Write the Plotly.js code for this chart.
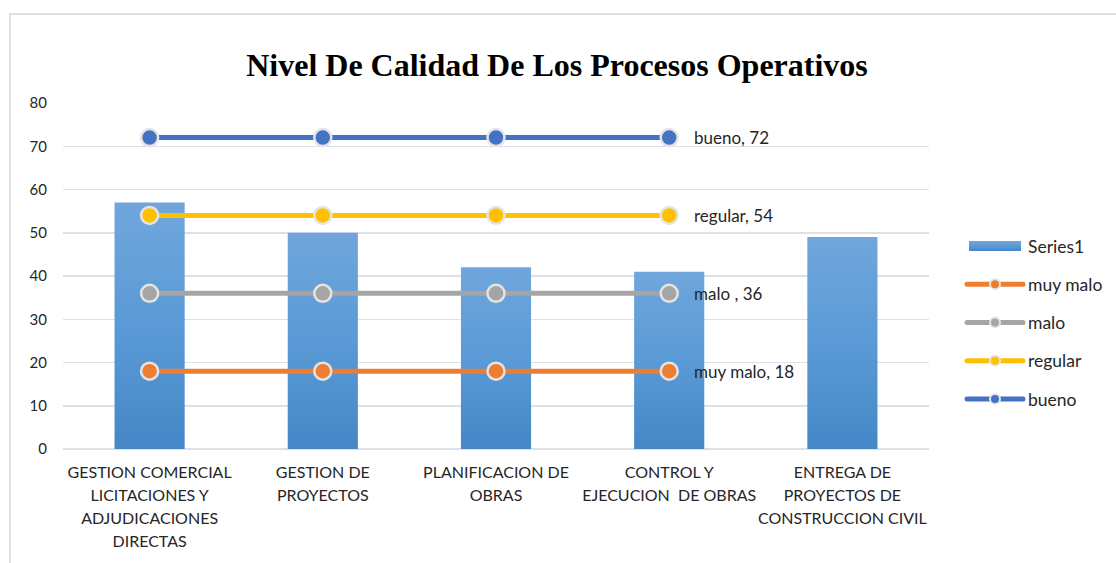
<!DOCTYPE html>
<html>
<head>
<meta charset="utf-8">
<script src="https://cdn.plot.ly/plotly-3.0.1.min.js"></script>
<style>
  html, body { margin: 0; padding: 0; background: #ffffff; overflow: hidden; }
  #frame { position: absolute; left: 9px; top: 13px; width: 2000px; height: 2000px; border: 2px solid #DDE1E7; }
  #chart { position: absolute; left: 0; top: 0; width: 1116px; height: 563px; }
</style>
</head>
<body>
<div id="frame"></div>
<div id="chart"></div>
<script>
// ---- data ----
const categories = [
  'GESTION COMERCIAL<br>LICITACIONES Y<br>ADJUDICACIONES<br>DIRECTAS',
  'GESTION DE<br>PROYECTOS',
  'PLANIFICACION DE<br>OBRAS',
  'CONTROL Y<br>EJECUCION  DE OBRAS',
  'ENTREGA DE<br>PROYECTOS DE<br>CONSTRUCCION CIVIL'
];
const series1 = [57, 50, 42, 41, 49];
const lineCategories = categories.slice(0, 4);
const muyMalo = [18, 18, 18, 18];
const malo = [36, 36, 36, 36];
const regular = [54, 54, 54, 54];
const bueno = [72, 72, 72, 72];
const lineNames = ['muy malo', 'malo', 'regular', 'bueno'];
const labelNames = ['muy malo', 'malo ', 'regular', 'bueno'];
const yTicks = [0, 10, 20, 30, 40, 50, 60, 70, 80];

// ---- styles ----
const lineColors = ['#ED7D31', '#A5A5A5', '#FFC000', '#4472C4'];
const lineSeries = [muyMalo, malo, regular, bueno];
const FONT = 'Lato, "Open Sans", sans-serif';
const TXT = '#262626';

const traces = [{
  type: 'bar', name: 'Series1', x: categories, y: series1,
  marker: { color: '#5B9BD5', line: { width: 0 } },
  legendgroup: 'g0', hoverinfo: 'x+y'
}];
lineSeries.forEach((vals, i) => {
  traces.push({
    type: 'scatter', mode: 'lines+markers', name: lineNames[i],
    x: lineCategories, y: vals, legendgroup: 'g' + (i + 1),
    line: { color: lineColors[i], width: 5 },
    marker: { color: lineColors[i], size: 17, line: { color: '#E4E4E4', width: 2.5 } }
  });
});

const annotations = lineSeries.map((vals, i) => ({
  xref: 'x', yref: 'y', x: lineCategories[lineCategories.length - 1], y: vals[vals.length - 1],
  text: labelNames[i] + ', ' + vals[vals.length - 1],
  showarrow: false, xanchor: 'left', yanchor: 'middle', xshift: 23,
  font: { family: FONT, size: 17, color: TXT }
}));

const layout = {
  width: 1116, height: 563,
  paper_bgcolor: 'rgba(0,0,0,0)', plot_bgcolor: 'rgba(0,0,0,0)',
  margin: { l: 63, r: 187, t: 103, b: 114, pad: 0, autoexpand: false },
  title: {
    text: 'Nivel De Calidad De Los Procesos Operativos',
    font: { family: '"Liberation Serif", "Times New Roman", serif', size: 32, color: '#000000', weight: 'bold' },
    x: 557 / 1116, xanchor: 'center', xref: 'container', y: 1 - 65 / 563, yanchor: 'middle'
  },
  bargap: 0.595,
  xaxis: {
    type: 'category', categoryorder: 'array', categoryarray: categories,
    showgrid: false, zeroline: false, showline: false, ticks: '',
    tickangle: 0, automargin: false,
    tickfont: { family: FONT, size: 16, color: TXT },
    ticklabelstandoff: 12
  },
  yaxis: {
    range: [0, 80], tickvals: yTicks, ticktext: yTicks.map(String),
    showgrid: true, gridcolor: '#DDE1E7', gridwidth: 1.5,
    zeroline: true, zerolinecolor: '#DDE1E7', zerolinewidth: 1.5,
    showline: false, ticks: '', automargin: false,
    tickfont: { family: FONT, size: 15, color: TXT },
    ticklabelstandoff: 15
  },
  legend: {
    x: (962 - 63) / 866, xanchor: 'left', y: (449 - 228) / 346, yanchor: 'top',
    font: { family: FONT, size: 17.5, color: TXT },
    traceorder: 'grouped', tracegroupgap: 12.5, itemwidth: 56,
    bgcolor: 'rgba(0,0,0,0)'
  },
  showlegend: true,
  annotations: annotations
};

Plotly.newPlot('chart', traces, layout, { displayModeBar: false, staticPlot: true }).then(gd => {
  const svg = gd.querySelector('svg.main-svg');
  const ns = 'http://www.w3.org/2000/svg';
  let defs = svg.querySelector('defs');
  if (!defs) { defs = document.createElementNS(ns, 'defs'); svg.insertBefore(defs, svg.firstChild); }
  const grad = document.createElementNS(ns, 'linearGradient');
  grad.setAttribute('id', 'barGrad');
  grad.setAttribute('x1', '0'); grad.setAttribute('y1', '0');
  grad.setAttribute('x2', '0'); grad.setAttribute('y2', '1');
  [['0%', '#70A6DC'], ['50%', '#5A9AD6'], ['100%', '#4587C7']].forEach(([o, c]) => {
    const s = document.createElementNS(ns, 'stop');
    s.setAttribute('offset', o); s.setAttribute('stop-color', c);
    grad.appendChild(s);
  });
  defs.appendChild(grad);
  gd.querySelectorAll('.barlayer .bars path').forEach(p => { p.style.fill = 'url(#barGrad)'; });
  // legend symbols: wide bar swatch, small markers, thicker lines
  const legendTraces = gd.querySelectorAll('.legend .traces');
  if (legendTraces.length) {
    legendTraces[0].querySelectorAll('.legendpoints path').forEach(p => {
      const d = p.getAttribute('d');
      if (d && d !== 'M0,0Z') {
        p.setAttribute('d', 'M26,5H-26V-5H26Z');
        p.style.fill = 'url(#barGrad)';
      }
    });
  }
  gd.querySelectorAll('.legend .legendlines path').forEach(p => {
    p.style.strokeWidth = '5px';
    p.style.strokeLinecap = 'round';
  });
  gd.querySelectorAll('.legend path.scatterpts').forEach(p => {
    p.setAttribute('d', 'M5,0A5,5 0 1,1 0,-5A5,5 0 0,1 5,0Z');
    p.style.strokeWidth = '2px';
  });
  // wider line spacing for category labels
  gd.querySelectorAll('.xtick text').forEach(t => {
    t.querySelectorAll('tspan.line').forEach((ln, idx) => {
      ln.setAttribute('dy', (idx * 1.44) + 'em');
    });
  });
});
</script>
</body>
</html>
